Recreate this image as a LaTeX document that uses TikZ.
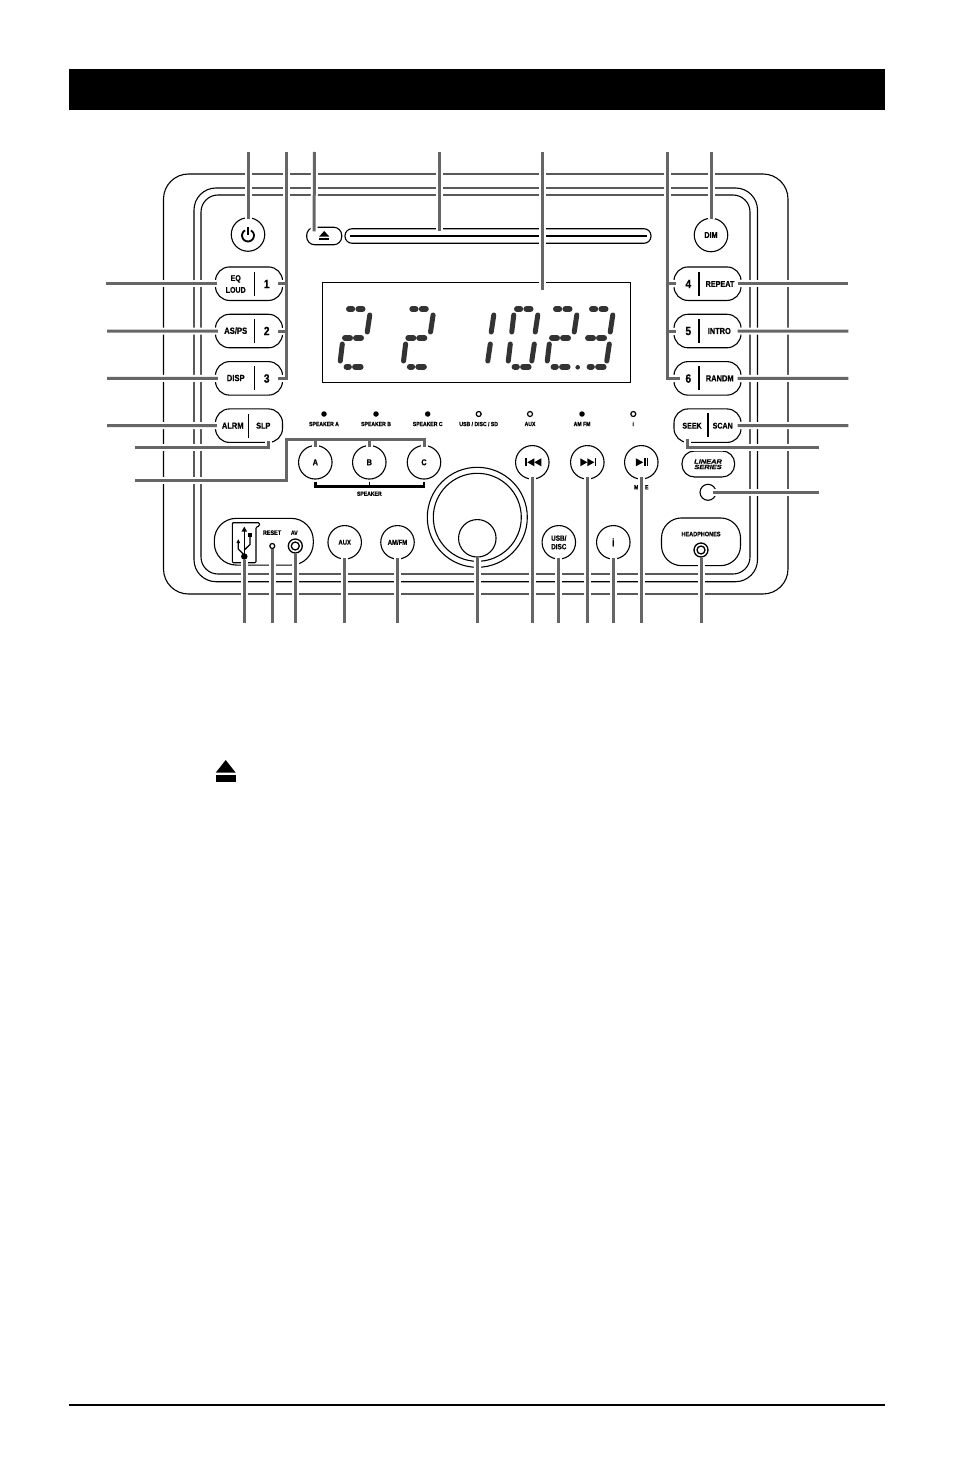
\documentclass[tikz,border=0pt]{standalone}
\usepackage{fontspec}
\newfontfamily\panelfont[FakeStretch=0.85, BoldFeatures={FakeBold=0.6}]{Liberation Sans}
\newfontfamily\logofont[FakeStretch=1.2, BoldItalicFeatures={FakeBold=0.8}]{Liberation Sans}
\newcommand{\pf}[1]{\panelfont\bfseries\fontsize{#1}{#1}\selectfont}

\definecolor{leadergray}{HTML}{666666}
\definecolor{lcdgray}{HTML}{333333}

% seven segment display
\newcommand{\segT}{\draw[lcdbar] (4,0) -- (7.2,0) (13.5,0) -- (17.5,0);}
\newcommand{\segU}{\draw[lcdseg] (25.5,6) -- (25,23);}
\newcommand{\segM}{\draw[lcdbar] (3.5,29) -- (8.5,29) (14.5,29) -- (19.5,29);}
\newcommand{\segL}{\draw[lcdseg] (1.5,35) -- (1.5,52);}
\newcommand{\segH}{\draw[lcdseg] (1.5,6) -- (1.5,23);}
\newcommand{\segR}{\draw[lcdseg] (25.5,35) -- (25,52);}
\newcommand{\segB}{\draw[lcdbar] (8.5,57.7) -- (10.8,57.7) (17,57.7) -- (22.5,57.7);}
\newcommand{\lcddigit}[2]{\begin{scope}[shift={(#1,309)}, xslant=0.12]
  \foreach \s in {#2} {\csname seg\s\endcsname}
\end{scope}}

\begin{document}
\begin{tikzpicture}[x=1pt, y=-1pt, node distance=47.33pt,
  panel/.style={draw, line width=1.1pt},
  pillbtn/.style={rectangle, draw, line width=1.1pt, rounded corners=14pt, minimum width=67pt, minimum height=33.5pt, inner sep=0pt},
  roundbtn/.style={circle, draw, line width=1.1pt, minimum size=33.5pt, inner sep=0pt},
  jackring/.style={circle, draw, line width=1.3pt, minimum size=14pt, inner sep=0pt},
  jackhole/.style={circle, draw, line width=1.3pt, minimum size=8pt, inner sep=0pt},
  ledon/.style={circle, fill, minimum size=5.5pt, inner sep=0pt},
  ledoff/.style={circle, draw, line width=1.2pt, minimum size=5pt, inner sep=0pt},
  btntext/.style={inner sep=0pt, align=center, font=\pf{8.5}},
  smalltext/.style={inner sep=0pt, align=center, font=\pf{6}},
  numtext/.style={inner sep=0pt, font=\pf{12}},
  divider/.style={line width=1pt},
  bracket/.style={line width=2.4pt},
  leader/.style={draw=leadergray, line width=3pt, preaction={draw=white, line width=7pt}},
  lcdseg/.style={draw=lcdgray, line width=5pt, line cap=round},
  lcdbar/.style={draw=lcdgray, line width=6pt, line cap=round}]

  \useasboundingbox (0,0) rectangle (954,1474);

  % page
  \fill (69,69) rectangle (885,110);
  \fill (69,1404) rectangle (885,1406);
  \fill (215.7,772.7) -- (225.7,760) -- (235.7,772.7) -- cycle;
  \fill (215.7,775) rectangle (235.7,782.3);

  % front panel
  \draw[panel, rounded corners=25pt] (163.5,174) rectangle (788,594);
  \draw[panel, rounded corners=22pt] (194,188) rectangle (757.5,581.7);
  \draw[panel, rounded corners=17pt] (201,195) rectangle (750,574);

  % top row
  \node[roundbtn] (power) at (248,234.5) {};
  \draw[line width=1.8pt] (248,227) -- (248,235);
  \draw[line width=1.8pt] (245,230.3) arc[start angle=120, end angle=420, radius=6pt];
  \node[rectangle, draw, line width=1.1pt, rounded corners=8pt, minimum width=35pt, minimum height=17.5pt, inner sep=0pt] (eject) at (324.2,236) {};
  \fill (319,236.7) -- (324.2,231) -- (329.4,236.7) -- cycle;
  \fill (319,238.3) rectangle (329.4,240);
  \node[rectangle, draw, line width=1.1pt, rounded corners=7pt, minimum width=306pt, minimum height=14.5pt, inner sep=0pt] (slot) at (498,236) {};
  \draw[line width=2.4pt] (350,235.8) -- (647,235.8);
  \node[roundbtn, btntext] (dim) at (711,235) {DIM};

  % display
  \node[rectangle, draw, line width=1pt, minimum width=308pt, minimum height=99.6pt, inner sep=0pt] (display) at (476.7,332.5) {};
  \lcddigit{345}{T,U,M,L,B}
  \lcddigit{408.3}{T,U,M,L,B}
  \lcddigit{469}{U,R}
  \lcddigit{513}{T,U,H,L,R,B}
  \lcddigit{552}{T,U,M,L,B}
  \lcddigit{588}{T,U,M,R,B}
  \node[circle, fill=lcdgray, minimum size=4.6pt, inner sep=0pt] (lcddot) at (577.7,367.3) {};

  % left buttons
  \node[pillbtn] (one) at (249,283.7) {};
  \node[pillbtn, below of=one] (two) {};
  \node[pillbtn, below of=two] (three) {};
  \node[pillbtn, below of=three] (alarm) {};
  \node[btntext, font=\pf{8.3}] (eqtext) at (235.7,284) {EQ\\[3.5pt]LOUD};
  \node[btntext, font=\pf{9}] (aspstext) at (235.7,330.7) {AS/PS};
  \node[btntext, font=\pf{9}] (disptext) at (235.7,378) {DISP};
  \node[btntext, font=\pf{8.8}] (alrmtext) at (232.7,425.7) {ALRM};
  \node[btntext] (slptext) at (263.3,425.7) {SLP};
  \node[numtext] (onetext) at (266.7,284) {1};
  \node[numtext] (twotext) at (266.7,331) {2};
  \node[numtext] (threetext) at (266.7,378.5) {3};
  \draw[divider] (254.3,272) -- (254.3,295.6);
  \draw[divider] (254.3,319) -- (254.3,342.6);
  \draw[divider] (254.3,366) -- (254.3,389.6);
  \draw[divider] (248.3,414) -- (248.3,437.6);

  % right buttons
  \node[pillbtn] (four) at (707.5,283.7) {};
  \node[pillbtn, below of=four] (five) {};
  \node[pillbtn, below of=five] (six) {};
  \node[pillbtn, below of=six] (seek) {};
  \node[numtext] (fourtext) at (688.3,284) {4};
  \node[numtext] (fivetext) at (688.3,331) {5};
  \node[numtext] (sixtext) at (688.3,378.5) {6};
  \node[btntext] (repeattext) at (720,284) {REPEAT};
  \node[btntext, font=\pf{8.7}] (introtext) at (719.3,331) {INTRO};
  \node[btntext, font=\pf{8.8}] (randmtext) at (719.7,378.3) {RANDM};
  \node[btntext, font=\pf{8.3}] (seektext) at (692,425.7) {SEEK};
  \node[btntext, font=\pf{8.3}] (scantext) at (722.7,425.7) {SCAN};
  \draw[line width=1.8pt] (699,272) -- (699,295.6);
  \draw[line width=1.8pt] (699,319) -- (699,342.6);
  \draw[line width=1.8pt] (699,366) -- (699,389.6);
  \draw[line width=1.8pt] (708,413) -- (708,437);

  % indicator lamps
  \foreach \x/\n in {324/leda, 376/ledb, 427.7/ledc, 582/ledam}
    \node[ledon] (\n) at (\x,414) {};
  \foreach \x/\n in {478.7/ledusb, 530/ledaux, 633.3/ledi}
    \node[ledoff] (\n) at (\x,414) {};
  \foreach \n/\t in {leda/SPEAKER A, ledb/SPEAKER B, ledc/SPEAKER C, ledusb/{USB / DISC / SD}, ledaux/AUX, ledam/AM FM, ledi/i}
    \node[smalltext, below of=\n, node distance=10pt] (\n text) {\t};

  % speaker buttons
  \node[roundbtn, btntext] (spka) at (315.3,462.3) {A};
  \node[roundbtn, btntext, right of=spka, node distance=54pt] (spkb) {B};
  \node[roundbtn, btntext, right of=spkb, node distance=54.7pt] (spkc) {C};
  \draw[bracket] ([yshift=-2pt]spka.south) -- ++(0,5) -| ([yshift=-2pt]spkc.south);
  \draw[line width=1.2pt] ([yshift=-2pt]spkb.south) -- ++(0,5);
  \node[smalltext] (spktext) at (369.3,493.7) {SPEAKER};

  % transport buttons
  \node[roundbtn] (prev) at (532.3,462.3) {};
  \node[roundbtn, right of=prev, node distance=55pt] (next) {};
  \node[roundbtn, right of=next, node distance=54pt] (play) {};
  \fill (prev.center) ++(-7,-4) rectangle ++(1.5,8);
  \fill (prev.center) ++(-5,0) -- ++(7,-4) -- ++(0,8) -- cycle;
  \fill (prev.center) ++(2,0) -- ++(7,-4) -- ++(0,8) -- cycle;
  \fill (next.center) ++(7.5,-4) rectangle ++(1.5,8);
  \fill (next.center) ++(7,0) -- ++(-7,-4) -- ++(0,8) -- cycle;
  \fill (next.center) ++(0,0) -- ++(-7,-4) -- ++(0,8) -- cycle;
  \fill (play.center) ++(2,0) -- ++(-7.5,-4) -- ++(0,8) -- cycle;
  \fill (play.center) ++(3,-4) rectangle ++(1.5,8);
  \fill (play.center) ++(5.5,-4) rectangle ++(1.5,8);
  \node[smalltext] (mutetext) at (641.3,487.3) {MUTE};

  % volume knob
  \node[circle, draw, line width=1.1pt, minimum size=100pt, inner sep=0pt] (knobouter) at (477.3,517.3) {};
  \node[circle, draw, line width=1.1pt, minimum size=88pt, inner sep=0pt] (knobinner) at (477.3,517.3) {};
  \node[circle, draw, line width=1.1pt, minimum size=37.5pt, inner sep=0pt] (knobcap) at (477.3,538.3) {};

  % lower row
  \node[pillbtn, rounded corners=22pt, minimum width=99pt, minimum height=46.7pt] (usbpill) at (263.8,541.7) {};
  \draw[line width=1.1pt, rounded corners=1pt] (232.3,522.7) -- (259.3,522.7) -- (259.3,526) -- (256,527.3) -- (256,562.7) -- (232.3,562.7) -- cycle;
  \node[circle, fill, minimum size=6.5pt, inner sep=0pt] (usbdot) at (244.3,556.5) {};
  \draw[line width=1.3pt] (usbdot.center) -- (244.3,530);
  \fill (244.3,526.7) -- (241.6,531.5) -- (247,531.5) -- cycle;
  \draw[line width=1.3pt] (244.3,555) -- (238.3,549) -- (238.3,542);
  \fill (238.3,539.3) -- (236.4,543) -- (240.2,543) -- cycle;
  \draw[line width=1.3pt] (244.3,550) -- (250,544.5) -- (250,536);
  \fill (248.3,533.3) rectangle (251.7,536.7);
  \node[ledoff] (ledreset) at (272.3,546) {};
  \node[smalltext, font=\pf{6.4}] (resettext) at (272,532.7) {RESET};
  \node[jackring] (avjack) at (295.3,546) {};
  \node[jackhole] (avhole) at (295.3,546) {};
  \node[smalltext] (avtext) at (294.3,532.7) {AV};
  \node[roundbtn, btntext, font=\pf{7}] (aux) at (344.7,542.3) {AUX};
  \node[roundbtn, btntext, font=\pf{7}, right of=aux, node distance=52.8pt] (amfm) {AM/FM};
  \node[roundbtn, btntext, font=\pf{7.5}] (usbdisc) at (558.8,542.3) {USB/\\[1pt]DISC};
  \node[roundbtn, btntext, font=\pf{11}, right of=usbdisc, node distance=54.5pt] (info) {i};

  % headphones, logo, sensor
  \node[pillbtn, rounded corners=20pt, minimum width=79pt, minimum height=47.7pt] (phones) at (701,541.8) {};
  \node[smalltext, font=\pf{6.5}] (phonestext) at (701,534) {HEADPHONES};
  \node[jackring] (phonejack) at (701,550) {};
  \node[jackhole] (phonehole) at (701,550) {};
  \node[rectangle, draw, line width=1.1pt, rounded corners=12.5pt, minimum width=52.7pt, minimum height=26pt, inner sep=0pt] (logo) at (708.3,464) {};
  \node[inner sep=0pt, align=center, font=\logofont\bfseries\itshape\fontsize{6.2}{5.4}\selectfont] (logotext) at (708,464.3) {LINEAR\\SERIES};
  \node[circle, draw, line width=1.1pt, minimum size=16pt, inner sep=0pt] (sensor) at (708,492.3) {};

  % leader lines, free ends first
  \coordinate (tippower) at (248,152);
  \coordinate (tipnum) at (286.3,152);
  \coordinate (tipeject) at (314.3,152);
  \coordinate (tipslot) at (439,152);
  \coordinate (tipdisplay) at (542.3,152);
  \coordinate (tipfour) at (667.3,152);
  \coordinate (tipdim) at (711,152);
  \coordinate (tipeq) at (106,283.7);
  \coordinate (tipas) at (107,331);
  \coordinate (tipdisp) at (107,378.4);
  \coordinate (tipalarm) at (107,425.7);
  \coordinate (tipslp) at (135,447.3);
  \coordinate (tipspk) at (135,480.3);
  \coordinate (tiprepeat) at (848.3,283.7);
  \coordinate (tipintro) at (848.3,331);
  \coordinate (tiprandm) at (848.3,378.4);
  \coordinate (tipscan) at (848.3,425.7);
  \coordinate (tipseek) at (819,447.3);
  \coordinate (tipsensor) at (819,492.3);

  \draw[leader] (tippower) -- ([yshift=-1.5pt]power.north);
  \draw[leader] (tipnum) |- ([xshift=-5pt]three.east) (tipnum |- one.east) -- ([xshift=-5pt]one.east) (tipnum |- two.east) -- ([xshift=-5pt]two.east);
  \draw[leader] (tipeject) -- ([xshift=-10pt,yshift=-4.7pt]eject.north);
  \draw[leader] (tipslot) -- ([xshift=-59pt,yshift=-3pt]slot.north);
  \draw[leader] (tipdisplay) -- ([xshift=65.6pt,yshift=-8pt]display.north);
  \draw[leader] (tipfour) |- ([xshift=6.7pt]six.west) (tipfour |- four.west) -- ([xshift=2.5pt]four.west) (tipfour |- five.west) -- ([xshift=2.5pt]five.west);
  \draw[leader] (tipdim) -- ([yshift=-1.5pt]dim.north);

  \draw[leader] (tipeq) -- ([xshift=2pt]one.west);
  \draw[leader] (tipas) -- ([xshift=3pt]two.west);
  \draw[leader] (tipdisp) -- ([xshift=3pt]three.west);
  \draw[leader] (tipalarm) -- ([xshift=2pt]alarm.west);
  \draw[leader] (tipslp) -| ([xshift=19pt,yshift=1.5pt]alarm.south);
  \draw[leader] (tipspk) -| (286.3,439.3) -| ([yshift=-1.5pt]spkc.north) (spka.north |- 0,439.3) -- ([yshift=-1.5pt]spka.north) (spkb.north |- 0,439.3) -- ([yshift=-1.5pt]spkb.north);

  \draw[leader] (tiprepeat) -- ([xshift=-4pt]four.east);
  \draw[leader] (tipintro) -- ([xshift=-4pt]five.east);
  \draw[leader] (tiprandm) -- ([xshift=-4pt]six.east);
  \draw[leader] (tipscan) -- ([xshift=-4pt]seek.east);
  \draw[leader] (tipseek) -| ([xshift=-20.2pt,yshift=4pt]seek.south);
  \draw[leader] (tipsensor) -- ([xshift=-4pt]sensor.east);

  \foreach \n/\t/\s in {usbdot/tipusb/0pt, ledreset/tipreset/0pt, avjack/tipav/0pt, aux/tipaux/1.5pt, amfm/tipam/1.5pt, knobcap/tipknob/0pt, usbdisc/tipdisc/1.5pt, info/tipinfo/1.5pt, phonejack/tipphone/0pt, prev/tipprev/3pt, next/tipnext/3pt, play/tipplay/3pt} {
    \coordinate (\t) at (\n.south |- 0,622.5);
    \draw[leader] (\t) -- ([yshift=\s]\n.south);
  }
\end{tikzpicture}
\end{document}
